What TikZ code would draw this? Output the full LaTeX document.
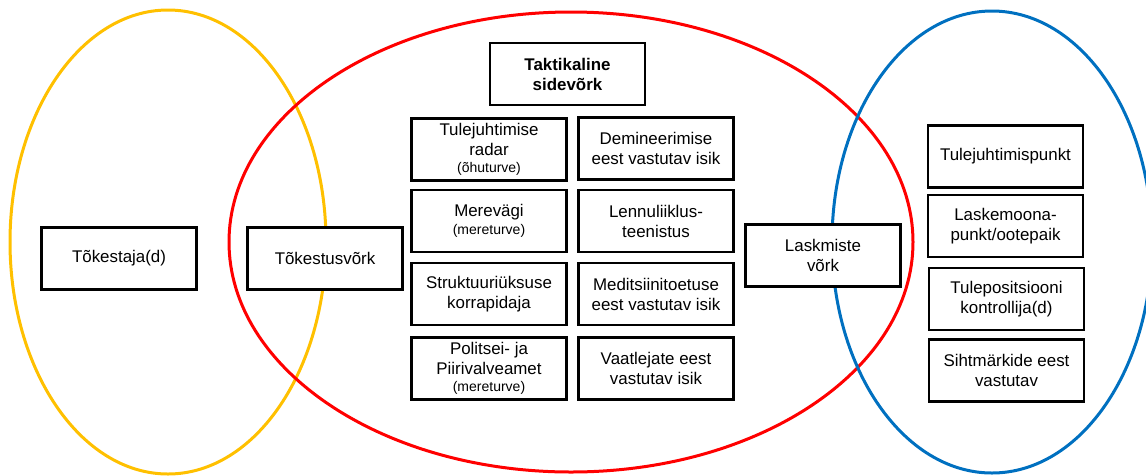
\documentclass[tikz,border=0pt]{standalone}
\usepackage{fontspec}
\setmainfont{Liberation Sans}
\newcommand{\smalltxt}[1]{{\fontsize{14}{15}\selectfont #1}}
\begin{document}
\begin{tikzpicture}[x=1pt,y=-1pt,
  rolebox/.style={draw=black,fill=white,line width=2.6pt,minimum width=155pt,minimum height=62pt,
    align=center,inner sep=1pt,font=\fontsize{16.9}{20}\selectfont},
  netring/.style={line width=3pt}]
\useasboundingbox (0,0) rectangle (1146,475);
\definecolor{ringyellow}{RGB}{255,192,0}
\definecolor{ringred}{RGB}{255,0,0}
\definecolor{ringblue}{RGB}{0,112,192}
% ellipses
\draw[netring,color=ringyellow] (168,242) ellipse (158 and 232);
\draw[netring,color=ringred] (571,242) ellipse (342 and 230);
\draw[netring,color=ringblue] (992,242) ellipse (160 and 231);
% middle
\node[rolebox,font=\bfseries\fontsize{16.9}{20}\selectfont] (takt) at (567.5,74) {Taktikaline\\sidevõrk};
\node[rolebox] (radar) at (489,149.5) {Tulejuhtimise\\radar\\[-3pt]\smalltxt{(õhuturve)}};
\node[rolebox] (demin) at (656,148.5) {Demineerimise\\eest vastutav isik};
\node[rolebox] (merevagi) at (489,221) {Merevägi\\[-2pt]\smalltxt{(mereturve)}};
\node[rolebox] (lennu) at (656,221) {Lennuliiklus-\\teenistus};
\node[rolebox] (struktuur) at (489,294) {Struktuuriüksuse\\korrapidaja};
\node[rolebox] (medits) at (656,294) {Meditsiinitoetuse\\eest vastutav isik};
\node[rolebox] (politsei) at (489,368.5) {Politsei- ja\\Piirivalveamet\\[-3pt]\smalltxt{(mereturve)}};
\node[rolebox] (vaatlejad) at (656,368.5) {Vaatlejate eest\\vastutav isik};
% left
\node[rolebox] (tokestaja) at (119,258.5) {Tõkestaja(d)};
\node[rolebox] (tokvork) at (325,258.5) {Tõkestusvõrk};
% right
\node[rolebox] (laskvork) at (823,255.5) {Laskmiste\\võrk};
\node[rolebox] (tulepunkt) at (1005.5,156.5) {Tulejuhtimispunkt};
\node[rolebox] (laskemoon) at (1005.5,226) {Laskemoona-\\punkt/ootepaik};
\node[rolebox] (tulepos) at (1006.5,299) {Tulepositsiooni\\kontrollija(d)};
\node[rolebox] (sihtmark) at (1006.5,370.5) {Sihtmärkide eest\\vastutav};
\end{tikzpicture}
\end{document}
